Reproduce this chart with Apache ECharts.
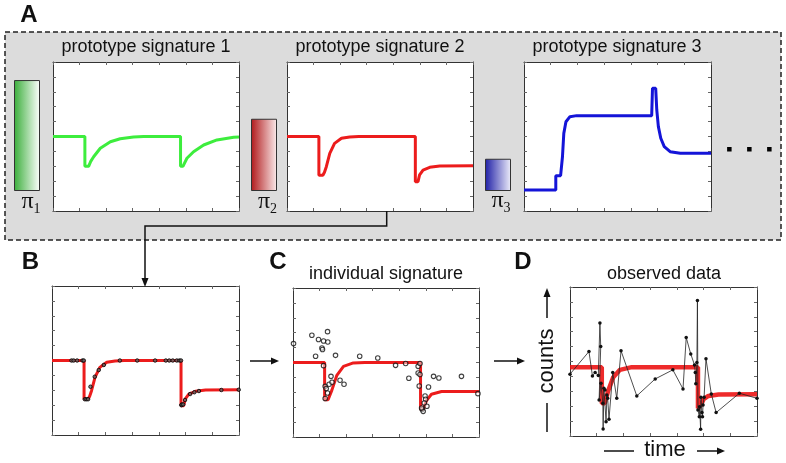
<!DOCTYPE html>
<html><head><meta charset="utf-8">
<script src="https://cdn.jsdelivr.net/npm/echarts@6/dist/echarts.min.js"></script>
<style>html,body{margin:0;padding:0;background:#fff}#c{width:786px;height:463px}</style>
</head><body><div id="c"></div>
<script>
// ---- data (x: time 0..70, y: counts 0..10) ----
const sig1 = [[0,5],[12,5],[12,3],[13.4,3],[14.2,3.33],[15.3,3.64],[17.8,4.21],[21.6,4.65],[25.3,4.85],[30.3,4.97],[34.1,5],[48,5],[48,3],[48.9,3],[50.4,3.54],[52.9,3.98],[56.7,4.43],[61.7,4.77],[68,4.95],[70,4.97]];
const sig2 = [[0,5],[12,5],[12,2.4],[13.5,2.4],[14.1,2.6],[14.8,2.97],[16.1,3.87],[17.9,4.54],[20.5,4.88],[23.6,4.97],[27,5],[48.3,5],[48.3,1.97],[49.3,1.97],[49.9,2.42],[51.2,2.75],[53.7,2.93],[57.5,3.02],[70,3.04]];
const sig3 = [[0,1.41],[11.9,1.41],[11.9,2.37],[13.7,2.37],[14.4,3.64],[14.9,5.21],[15.7,5.99],[17.2,6.33],[19.7,6.4],[47.8,6.4],[48.1,8.23],[49.3,8.23],[49.7,6.78],[50.3,5.66],[51.2,4.88],[52.5,4.32],[54.7,3.98],[58.5,3.87],[70,3.87]];
const bSamples = [[7.3,5],[8.1,5],[9.4,5],[11.4,5],[11.9,5],[12.3,2.4],[12.9,2.4],[13.5,2.4],[14.4,3.24],[16,3.91],[17.5,4.36],[19.4,4.7],[25.4,5],[31.9,5],[38.6,5],[42.6,5],[43.9,5],[45.2,5],[46.7,5],[47.7,5],[48.3,5],[48.4,2],[48.6,2.05],[49.1,2.05],[49.8,2.35],[51.7,2.75],[53.3,2.87],[55,2.95],[63.4,3.02],[69.9,3.04]];
const cSig = [[0,5],[11.9,5],[11.9,2.5],[13.2,2.5],[14.6,3.13],[16.5,4.14],[19,4.74],[22.7,4.97],[27,5],[48,5],[48,1.84],[49,1.84],[50.3,2.46],[52.1,2.87],[55.9,3.05],[70,3.06]];
const cPoints = [[0.2,6.27],[7.1,6.83],[9.6,6.54],[13.0,7.07],[11.5,6.44],[13.1,6.38],[10.9,5.97],[11.1,5.87],[8.5,5.42],[16.0,5.48],[11.5,4.79],[14.3,4.07],[12.1,3.40],[12.5,3.25],[13.6,3.54],[14.7,3.67],[13.0,2.95],[12.1,2.58],[17.7,3.81],[19.2,3.54],[25.1,5.42],[31.9,5.30],[38.6,4.81],[42.4,4.93],[43.6,3.94],[47.1,4.74],[47.8,4.93],[47.1,4.30],[47.8,4.19],[47.5,3.42],[51.0,3.36],[52.9,4.07],[54.9,3.96],[63.4,4.07],[49.7,2.75],[49.9,2.53],[49.4,2.28],[50.4,2.06],[48.6,1.86],[49.0,1.72],[48.4,1.95],[69.6,2.91]];
const dSig = [[0,4.62],[11.9,4.62],[11.9,2.2],[13,2.2],[14.4,3.09],[16.2,3.95],[18.7,4.44],[23.1,4.62],[47.9,4.62],[47.9,1.86],[48.6,1.86],[49,2.08],[50,2.47],[51.8,2.69],[55.6,2.78],[70,2.8]];
const dObserved = [[0,4.15],[7.1,5.67],[8.4,4.03],[9.4,4.26],[10.6,4.06],[11.2,7.58],[11.5,6.01],[10.9,2.42],[11.6,3.54],[12.3,2.2],[12.4,0.47],[12.7,3.21],[13.1,3.09],[13.5,0.96],[13.8,2.76],[14.1,2.53],[14.6,1.12],[16,4.26],[17.5,2.53],[19.1,5.72],[25,2.69],[31.9,3.83],[38.5,4.44],[42.3,3.16],[43.5,6.61],[45.2,5.51],[46.6,4.77],[46.9,4.26],[47.1,3.5],[47.5,4.93],[47.7,9.1],[47.9,1.75],[48.4,1.3],[48.5,1.97],[48.9,0.45],[49,2.6],[49.4,1.57],[49.6,1.3],[49.8,2.08],[50.2,2.6],[50.9,5.18],[52.9,2.82],[54.7,1.57],[63.4,2.87],[70,2.53]];
const piWeights = [0.86, 0.56, 0.25];
const piNames = ['π1','π2','π3'];
const titles = ['prototype signature 1','prototype signature 2','prototype signature 3','individual signature','observed data'];

// ---- layout ----
const plotRects = [[53,62,186,149],[287,62,186,149],[524,62,187,149],[52,286,187,149],[293,288,186,149],[570,287,187,149]];
const barRects = [[14,62,26,129],[251,62,26,129],[485,62,26,129]];
const grids=[], xAxes=[], yAxes=[];
const font='"Liberation Sans", Arial, sans-serif';
function axBase(){return {axisLine:{show:true,onZero:false,lineStyle:{color:'#333',width:1}},axisTick:{show:true,inside:true,length:3,lineStyle:{color:'#666'}},axisLabel:{show:false},splitLine:{show:false}};}
plotRects.forEach((r,i)=>{
  grids.push({left:r[0],top:r[1],width:r[2],height:r[3],show:true,backgroundColor:'#fff',borderWidth:0});
  ['bottom','top'].forEach(p=>xAxes.push(Object.assign(axBase(),{gridIndex:i,type:'value',position:p,min:0,max:70,interval:10})));
  ['left','right'].forEach(p=>yAxes.push(Object.assign(axBase(),{gridIndex:i,type:'value',position:p,min:0,max:10,interval:1})));
});
barRects.forEach((r,k)=>{
  const gi=grids.length;
  grids.push({left:r[0],top:r[1],width:r[2],height:r[3],show:false});
  xAxes.push({gridIndex:gi,type:'category',data:[piNames[k]],show:false});
  yAxes.push({gridIndex:gi,type:'value',min:0,max:1,show:false});
});
function lineS(gi,data,color,w,extra){return Object.assign({type:'line',xAxisIndex:2*gi,yAxisIndex:2*gi,data:data,showSymbol:false,symbol:'none',lineStyle:{color:color,width:w},silent:true,animation:false,z:3},extra||{});}
const series=[
  lineS(0,sig1,'#3ded3d',3),
  lineS(1,sig2,'#ec1c1c',3),
  lineS(2,sig3,'#1414d8',3),
  lineS(3,sig2,'#ec1c1c',3),
  {type:'scatter',xAxisIndex:6,yAxisIndex:6,data:bSamples,symbol:'circle',symbolSize:3.5,itemStyle:{color:'#666',borderColor:'#000',borderWidth:1},z:4,animation:false},
  lineS(4,cSig,'#ec1c1c',3),
  {type:'scatter',xAxisIndex:8,yAxisIndex:8,data:cPoints,symbol:'circle',symbolSize:4.5,itemStyle:{color:'rgba(255,255,255,0.6)',borderColor:'#111',borderWidth:1.1},z:4,animation:false},
  lineS(5,dSig,'#ec1c1c',4,{lineStyle:{color:'rgba(236,20,20,0.9)',width:4.5}}),
  {type:'line',xAxisIndex:10,yAxisIndex:10,data:dObserved,symbol:'circle',symbolSize:3.5,showSymbol:true,itemStyle:{color:'#111'},lineStyle:{color:'#222',width:0.8},z:4,animation:false}
];
const grads=[['#3aae3a','#ffffff'],['#b0181a','#fbecec'],['#1e1ea6','#eeeefa']];
piWeights.forEach((v,k)=>{
  series.push({type:'bar',xAxisIndex:12+k,yAxisIndex:2*6+k,data:[v],barWidth:'100%',animation:false,
    itemStyle:{color:new echarts.graphic.LinearGradient(0,0,1,0,[{offset:0,color:grads[k][0]},{offset:1,color:grads[k][1]}]),borderColor:'#333',borderWidth:1}});
});

// ---- decorations ----
const g=[];
g.push({type:'rect',z:-10,shape:{x:5,y:32,width:776,height:208},style:{fill:'#dcdcdc',stroke:'#222',lineWidth:1.5,lineDash:[5,3]}});
function txt(x,y,t,size,opt){g.push(Object.assign({type:'text',x:x,y:y,z:10,style:{text:t,fill:'#111',font:(opt&&opt.bold?'bold ':'')+size+'px '+((opt&&opt.serif)?'"Liberation Serif", "Times New Roman", serif':font),align:'center',verticalAlign:'middle'}},opt&&opt.el||{}));}
txt(29,15,'A',24,{bold:true});
txt(30.5,262,'B',24,{bold:true});
txt(278,262,'C',24,{bold:true});
txt(523,262,'D',24,{bold:true});
const titlePos=[[146,47],[380,47],[617,47],[386,274],[664,274]];
titles.forEach((t,i)=>txt(titlePos[i][0],titlePos[i][1],t,18));
const piPos=[[27.5,202],[264,202],[497.5,201]];
piPos.forEach((p,k)=>{txt(p[0],p[1],'π',24,{serif:true});txt(p[0]+9.5,p[1]+7,String(k+1),14,{serif:true});});
[729.3,749.3,769.3].forEach(x=>g.push({type:'rect',z:10,shape:{x:x-2.2,y:147,width:4.5,height:4.5},style:{fill:'#000'}}));
function seg(pts,w){g.push({type:'polyline',z:10,shape:{points:pts},style:{stroke:'#111',lineWidth:w||1.5,fill:null}});}
function tri(pts){g.push({type:'polygon',z:10,shape:{points:pts},style:{fill:'#111'}});}
seg([[386.7,211],[386.7,226],[145,226],[145,279]]);
tri([[141.5,278],[148.5,278],[145,287]]);
seg([[250,361],[272,361]]); tri([[271,357.5],[271,364.5],[279,361]]);
seg([[494,361],[518,361]]); tri([[517,357.5],[517,364.5],[525,361]]);
txt(547,361,'counts',22,{el:{rotation:Math.PI/2}});
seg([[547,318],[547,296]]); tri([[543.5,297],[550.5,297],[547,288]]);
seg([[547,403],[547,432]]);
txt(665,450,'time',22);
seg([[604,451],[634,451]]);
seg([[697,451],[718,451]]); tri([[717,447.5],[717,454.5],[725,451]]);

const chart=echarts.init(document.getElementById('c'),null,{renderer:'canvas'});
chart.setOption({animation:false,backgroundColor:'#fff',grid:grids,xAxis:xAxes,yAxis:yAxes,series:series,graphic:{elements:g}});
</script></body></html>
